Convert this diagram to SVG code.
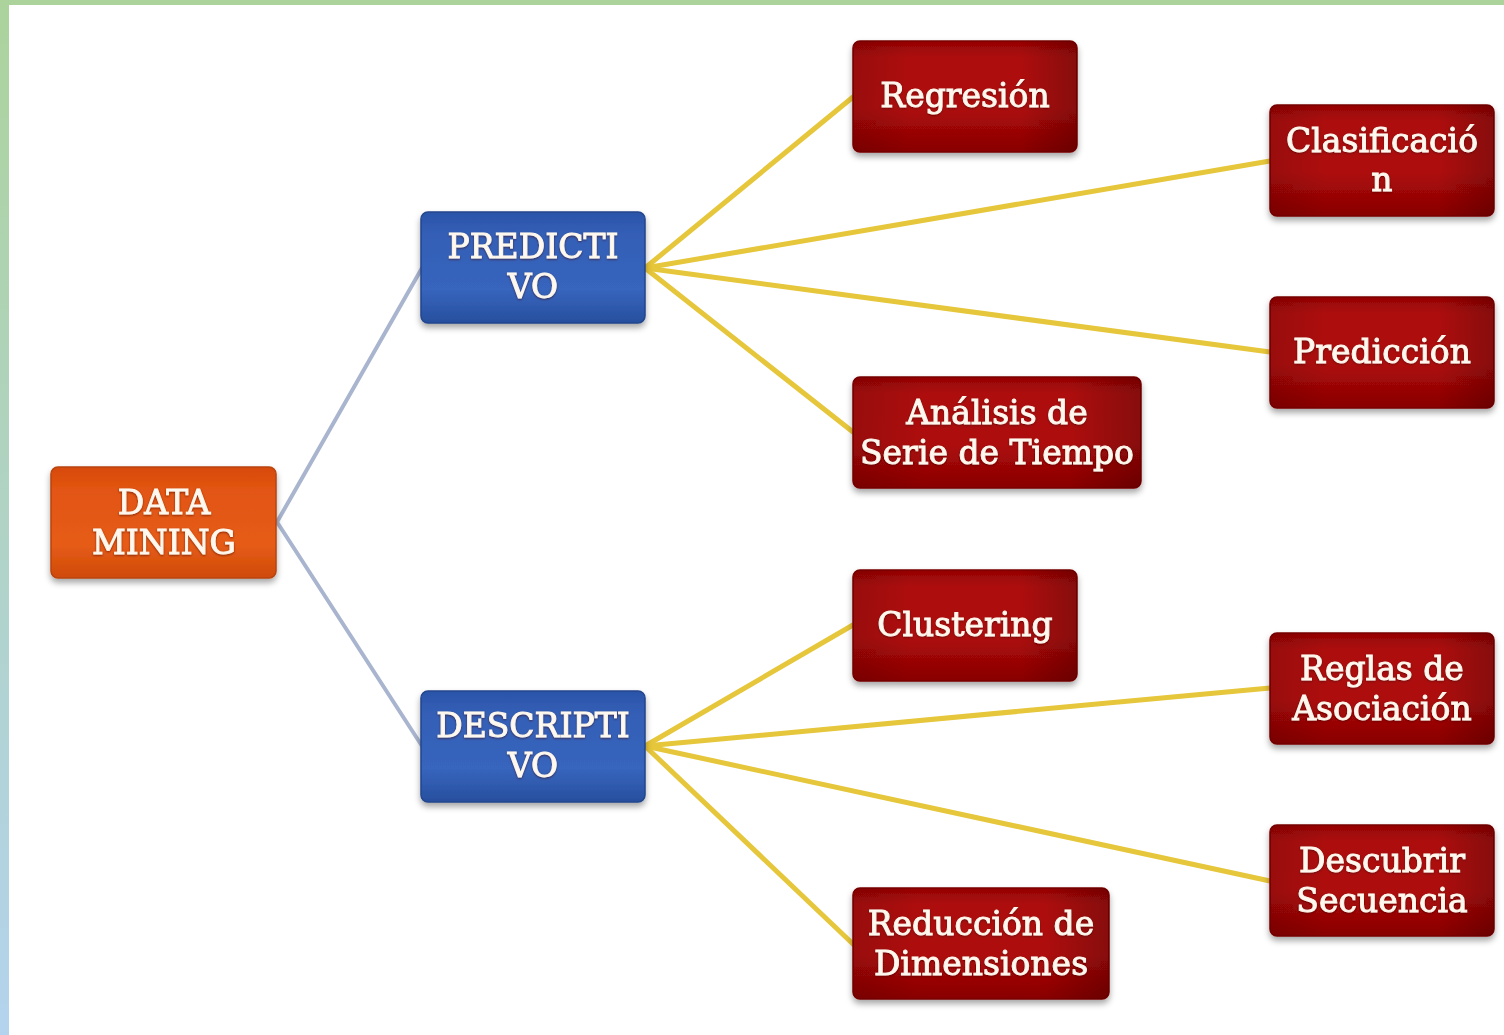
<svg xmlns="http://www.w3.org/2000/svg" width="1504" height="1035" viewBox="0 0 1504 1035">
  <defs>
    <linearGradient id="frameLeft" x1="0" y1="0" x2="0" y2="1">
      <stop offset="0" stop-color="#acd39c"/>
      <stop offset="1" stop-color="#b4d3ee"/>
    </linearGradient>
    <linearGradient id="redFill" x1="0" y1="0" x2="0" y2="1">
      <stop offset="0" stop-color="#940404"/>
      <stop offset="0.15" stop-color="#ad0b0b"/>
      <stop offset="0.6" stop-color="#ae0a0a"/>
      <stop offset="1" stop-color="#880202"/>
    </linearGradient>
    <linearGradient id="redSide" x1="0" y1="0" x2="1" y2="0">
      <stop offset="0" stop-color="#000" stop-opacity="0.12"/>
      <stop offset="0.25" stop-color="#000" stop-opacity="0"/>
      <stop offset="0.75" stop-color="#000" stop-opacity="0"/>
      <stop offset="1" stop-color="#000" stop-opacity="0.22"/>
    </linearGradient>
    <linearGradient id="blueFill" x1="0" y1="0" x2="0" y2="1">
      <stop offset="0" stop-color="#2a54a8"/>
      <stop offset="0.2" stop-color="#345fb6"/>
      <stop offset="0.7" stop-color="#3765bd"/>
      <stop offset="1" stop-color="#274f9e"/>
    </linearGradient>
    <linearGradient id="orangeFill" x1="0" y1="0" x2="0" y2="1">
      <stop offset="0" stop-color="#d64a0c"/>
      <stop offset="0.2" stop-color="#e25512"/>
      <stop offset="0.7" stop-color="#e65c16"/>
      <stop offset="1" stop-color="#cf4a0a"/>
    </linearGradient>
    <filter id="shadow" x="-10%" y="-10%" width="120%" height="135%">
      <feDropShadow dx="0" dy="4" stdDeviation="3" flood-color="#000" flood-opacity="0.35"/>
    </filter>
    <filter id="textShadow" x="-5%" y="-20%" width="110%" height="140%">
      <feDropShadow dx="0" dy="1" stdDeviation="1" flood-color="#400" flood-opacity="0.6"/>
    </filter>
  </defs>
  <style>
    .box { stroke-width: 1.5; }
    .red { fill: url(#redFill); stroke: #7a0000; }
    .blue { fill: url(#blueFill); stroke: #24468c; }
    .orange { fill: url(#orangeFill); stroke: #b8440a; }
    .shade { fill: url(#redSide); }
    .label { font-family: "DejaVu Serif", "Liberation Serif", serif; font-size: 33px; fill: #fff8ee; stroke: #fff8ee; stroke-width: 0.9; text-anchor: middle; filter: url(#textShadow); }
    .l1 { stroke: #a9b5cf; stroke-width: 4; fill: none; stroke-linecap: round; }
    .l2 { stroke: #e6c63a; stroke-width: 5; fill: none; stroke-linecap: round; }
  </style>

  <!-- page frame -->
  <rect x="0" y="0" width="1504" height="1035" fill="#ffffff"/>
  <rect x="0" y="0" width="1504" height="5" fill="#acd39c"/>
  <rect x="0" y="0" width="9" height="1035" fill="url(#frameLeft)"/>

  <!-- connectors -->
  <g id="connectors">
    <line class="l1" x1="277" y1="522" x2="422" y2="268"/>
    <line class="l1" x1="277" y1="522" x2="422" y2="746"/>
    <line class="l2" x1="645" y1="268" x2="853" y2="97"/>
    <line class="l2" x1="645" y1="268" x2="1270" y2="161"/>
    <line class="l2" x1="645" y1="268" x2="1270" y2="352"/>
    <line class="l2" x1="645" y1="268" x2="853" y2="432"/>
    <line class="l2" x1="645" y1="746" x2="853" y2="625"/>
    <line class="l2" x1="645" y1="746" x2="1270" y2="688"/>
    <line class="l2" x1="645" y1="746" x2="1270" y2="881"/>
    <line class="l2" x1="645" y1="746" x2="853" y2="944"/>
  </g>

  <!-- root -->
  <g id="data-mining" filter="url(#shadow)">
    <rect class="box orange" x="51" y="467" width="225" height="111" rx="7"/>
    <text class="label" x="164" y="514">DATA</text>
    <text class="label" x="164" y="554">MINING</text>
  </g>

  <!-- branches -->
  <g id="predictivo" filter="url(#shadow)">
    <rect class="box blue" x="421" y="212" width="224" height="111" rx="7"/>
    <text class="label" x="533" y="258">PREDICTI</text>
    <text class="label" x="533" y="298">VO</text>
  </g>
  <g id="descriptivo" filter="url(#shadow)">
    <rect class="box blue" x="421" y="691" width="224" height="111" rx="7"/>
    <text class="label" x="533" y="737">DESCRIPTI</text>
    <text class="label" x="533" y="777">VO</text>
  </g>

  <!-- predictive techniques -->
  <g id="regresion" filter="url(#shadow)">
    <rect class="box red" x="853" y="41" width="224" height="111" rx="7"/>
    <rect class="shade" x="853" y="41" width="224" height="111" rx="7"/>
    <text class="label" x="965" y="107">Regresión</text>
  </g>
  <g id="clasificacion" filter="url(#shadow)">
    <rect class="box red" x="1270" y="105" width="224" height="111" rx="7"/>
    <rect class="shade" x="1270" y="105" width="224" height="111" rx="7"/>
    <text class="label" x="1382" y="152">Clasificació</text>
    <text class="label" x="1382" y="191">n</text>
  </g>
  <g id="prediccion" filter="url(#shadow)">
    <rect class="box red" x="1270" y="297" width="224" height="111" rx="7"/>
    <rect class="shade" x="1270" y="297" width="224" height="111" rx="7"/>
    <text class="label" x="1382" y="363">Predicción</text>
  </g>
  <g id="series-tiempo" filter="url(#shadow)">
    <rect class="box red" x="853" y="377" width="288" height="111" rx="7"/>
    <rect class="shade" x="853" y="377" width="288" height="111" rx="7"/>
    <text class="label" x="997" y="424">Análisis de</text>
    <text class="label" x="997" y="464">Serie de Tiempo</text>
  </g>

  <!-- descriptive techniques -->
  <g id="clustering" filter="url(#shadow)">
    <rect class="box red" x="853" y="570" width="224" height="111" rx="7"/>
    <rect class="shade" x="853" y="570" width="224" height="111" rx="7"/>
    <text class="label" x="965" y="636">Clustering</text>
  </g>
  <g id="reglas-asociacion" filter="url(#shadow)">
    <rect class="box red" x="1270" y="633" width="224" height="111" rx="7"/>
    <rect class="shade" x="1270" y="633" width="224" height="111" rx="7"/>
    <text class="label" x="1382" y="680">Reglas de</text>
    <text class="label" x="1382" y="720">Asociación</text>
  </g>
  <g id="descubrir-secuencia" filter="url(#shadow)">
    <rect class="box red" x="1270" y="825" width="224" height="111" rx="7"/>
    <rect class="shade" x="1270" y="825" width="224" height="111" rx="7"/>
    <text class="label" x="1382" y="872">Descubrir</text>
    <text class="label" x="1382" y="912">Secuencia</text>
  </g>
  <g id="reduccion-dimensiones" filter="url(#shadow)">
    <rect class="box red" x="853" y="888" width="256" height="111" rx="7"/>
    <rect class="shade" x="853" y="888" width="256" height="111" rx="7"/>
    <text class="label" x="981" y="935">Reducción de</text>
    <text class="label" x="981" y="975">Dimensiones</text>
  </g>
</svg>
